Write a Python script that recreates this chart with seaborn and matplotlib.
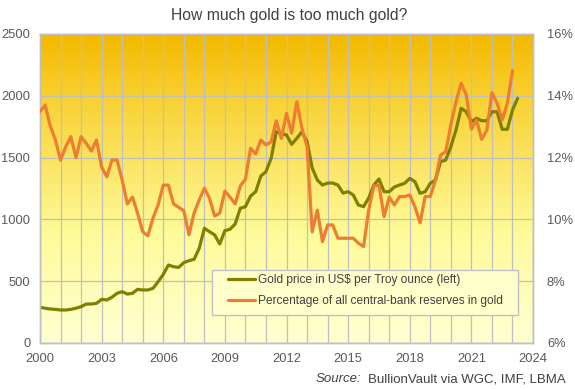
"""How much gold is too much gold? - gold price vs share of central-bank reserves held in gold."""

import matplotlib

matplotlib.use("Agg")
import matplotlib.pyplot as plt
import numpy as np
import pandas as pd
import seaborn as sns
from matplotlib.colors import LinearSegmentedColormap
from matplotlib.patches import Rectangle
from matplotlib.ticker import FuncFormatter, MultipleLocator

# quarterly gold price, US$ per Troy ounce (2000 Q1 .. 2023 Q2)
gold_price = [
    289, 281, 275, 272,
    267, 267, 272, 281,
    294, 315, 315, 321,
    353, 348, 370, 402,
    415, 396, 402, 434,
    429, 429, 442, 496,
    555, 631, 617, 612,
    650, 666, 677, 766,
    928, 901, 874, 801,
    909, 920, 963, 1090,
    1103, 1189, 1224, 1351,
    1386, 1494, 1709, 1696,
    1683, 1607, 1656, 1709,
    1630, 1416, 1318, 1278,
    1294, 1294, 1278, 1213,
    1224, 1197, 1116, 1103,
    1173, 1278, 1327, 1224,
    1224, 1262, 1278, 1292,
    1332, 1305, 1211, 1224,
    1292, 1319, 1467, 1480,
    1588, 1723, 1899, 1871,
    1790, 1818, 1798, 1798,
    1871, 1871, 1729, 1729,
    1885, 1980,
]

# quarterly gold share of all central-bank reserves, % (2000 Q1 .. 2023 Q1)
gold_share = [
    13.49, 13.70, 13.02, 12.57,
    11.92, 12.35, 12.68, 12.00,
    12.68, 12.46, 12.21, 12.57,
    11.69, 11.38, 11.92, 11.92,
    11.27, 10.50, 10.72, 10.20,
    9.60, 9.47, 10.04, 10.47,
    11.11, 11.11, 10.50, 10.39,
    10.28, 9.50, 10.20, 10.63,
    11.01, 10.68, 10.11, 10.20,
    10.92, 10.72, 10.50, 11.08,
    11.30, 12.30, 12.12, 12.57,
    12.41, 12.51, 13.19, 12.62,
    13.43, 12.79, 13.81, 12.95,
    12.35, 9.60, 10.30, 9.28,
    9.82, 9.82, 9.39, 9.39,
    9.39, 9.39, 9.23, 9.12,
    10.30, 11.08, 11.11, 10.09,
    10.72, 10.47, 10.74, 10.74,
    10.79, 10.41, 9.89, 10.74,
    10.74, 11.27, 12.08, 12.19,
    13.06, 13.81, 14.40, 14.03,
    12.92, 13.22, 12.59, 12.89,
    14.10, 13.76, 13.22, 13.76,
    14.81,
]

x_ticks = [2000, 2003, 2006, 2009, 2012, 2015, 2018, 2021, 2024]
price_ticks = [0, 500, 1000, 1500, 2000, 2500]
share_ticks = [6, 8, 10, 12, 14, 16]

gold_df = pd.DataFrame({"year": 2000 + np.arange(len(gold_price)) * 0.25, "price": gold_price})
share_df = pd.DataFrame({"year": 2000 + np.arange(len(gold_share)) * 0.25, "share": gold_share})

sns.set_style("white")
plt.rcParams["font.family"] = ["Liberation Sans", "DejaVu Sans"]

TEXT = "#595959"
DARK = "#404040"
GRID = "#BFBFBF"

fig = plt.figure(figsize=(5.75, 3.89), dpi=100)
ax = fig.add_axes([0.0696, 0.1183, 0.8574, 0.7943])
ax2 = ax.twinx()

# yellow-gold background gradient
bg = LinearSegmentedColormap.from_list(
    "bg", [(0.0, "#FFFFD2"), (0.35, "#FEFB9A"), (0.6, "#FBE360"), (0.8, "#F8D030"), (1.0, "#F4B800")]
)
ax.imshow(np.linspace(0, 1, 256).reshape(-1, 1), cmap=bg, origin="lower", aspect="auto",
          extent=[0, 1, 0, 1], transform=ax.transAxes, zorder=0)

sns.lineplot(data=gold_df, x="year", y="price", ax=ax, color="#7F7F00", linewidth=2.3,
             label="Gold price in US$ per Troy ounce (left)", legend=False, zorder=3)
sns.lineplot(data=share_df, x="year", y="share", ax=ax2, color="#ED7D31", linewidth=2.3,
             label="Percentage of all central-bank reserves in gold", legend=False, zorder=3)

ax.set_xlim(2000, 2024)
ax.set_ylim(0, 2500)
ax2.set_ylim(6, 16)
ax.set_xticks(x_ticks)
ax.xaxis.set_minor_locator(MultipleLocator(1))
ax.set_yticks(price_ticks)
ax2.set_yticks(share_ticks)
ax2.yaxis.set_major_formatter(FuncFormatter(lambda v, _: f"{v:.0f}%"))

ax.grid(True, which="both", axis="x", color=GRID, linewidth=0.9)
ax.grid(True, which="major", axis="y", color=GRID, linewidth=0.9)
for line in ax.get_xgridlines() + ax.get_ygridlines() + ax.xaxis.get_minorticklines():
    line.set_zorder(1)
ax.set_axisbelow(False)

ax.set_xlabel("")
ax.set_ylabel("")
ax2.set_ylabel("")
ax.tick_params(axis="both", which="both", length=0, labelsize=9.3, labelcolor=TEXT, pad=7)
ax2.tick_params(axis="y", length=0, labelsize=9.3, labelcolor=TEXT, pad=10)
for a in (ax, ax2):
    for sp in a.spines.values():
        sp.set_color(GRID)
        sp.set_linewidth(1.0)

# legend box drawn by hand (wide side padding, tight top/bottom)
ax2.add_patch(Rectangle((0.3489, 0.0906), 0.6207, 0.1456, transform=ax2.transAxes,
                        facecolor="#FFFFCC", edgecolor="#BFBFCC", linewidth=1.0, zorder=4.5))
h1, l1 = ax.get_legend_handles_labels()
h2, l2 = ax2.get_legend_handles_labels()
leg = ax2.legend(h1 + h2, l1 + l2, loc="upper left", bbox_to_anchor=(0.3813, 0.222),
                 fontsize=8.55, frameon=False, handlelength=2.3, borderpad=0.0,
                 borderaxespad=0.0, labelspacing=0.75, handletextpad=0.25)
leg.set_zorder(5)
for t in leg.get_texts():
    t.set_color(DARK)

fig.text(0.503, 0.959, "How much gold is too much gold?", ha="center", va="center",
         fontsize=11.3, color=DARK)
src = fig.text(0.984, 0.025, "BullionVault via WGC, IMF, LBMA", ha="right", va="center",
               fontsize=9.5, color=DARK)
fig.canvas.draw()
x0 = src.get_window_extent().x0
fig.text((x0 - 7) / fig.bbox.width, 0.025, "Source:", ha="right", va="center", fontsize=9.5,
         color=DARK, style="italic")

fig.savefig("out.png", dpi=100)
